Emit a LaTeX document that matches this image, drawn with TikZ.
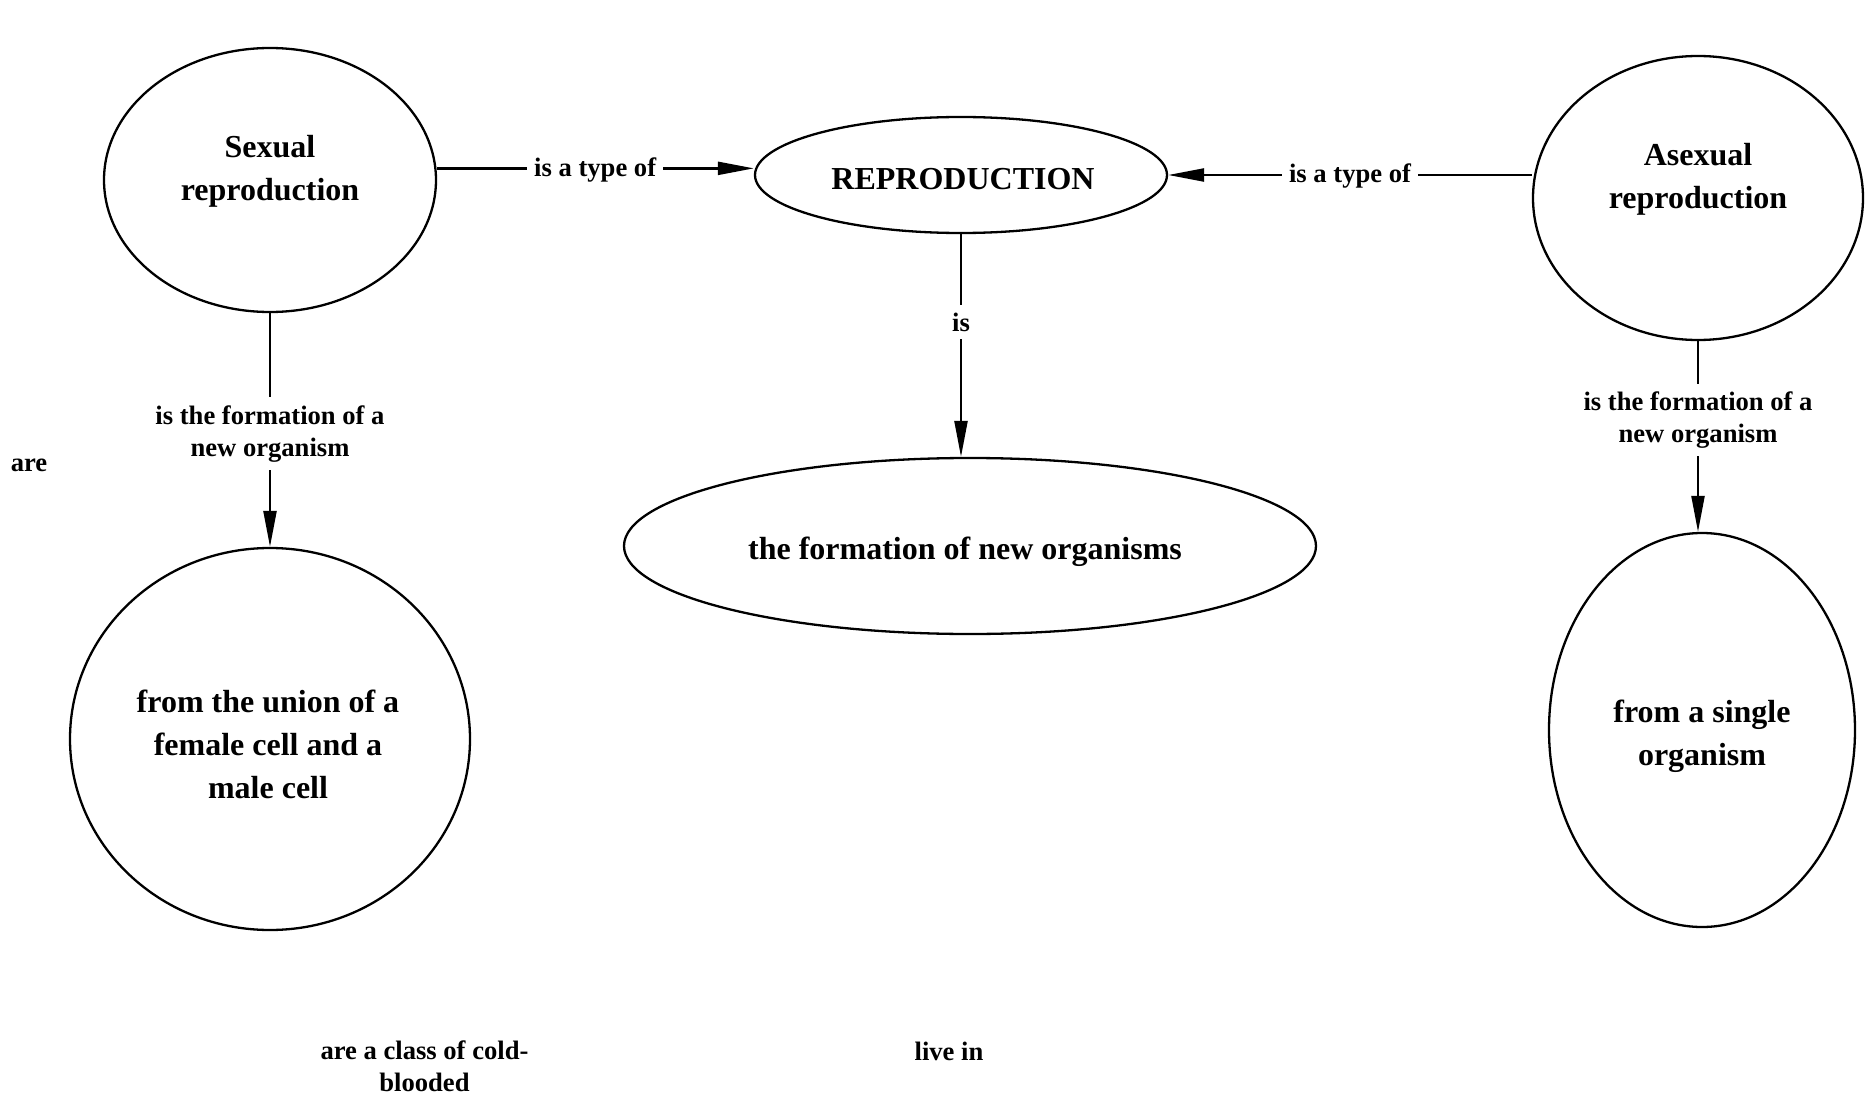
\documentclass[tikz,border=0pt]{standalone}
\usepackage{fontspec}
\setmainfont{Liberation Serif}
\usetikzlibrary{shapes.geometric,arrows.meta}
\begin{document}
\begin{tikzpicture}[x=0.5pt,y=-0.5pt,
  oval/.style={draw, ellipse, line width=1.15pt, inner sep=0pt},
  ctext/.style={align=center, font=\fontsize{16}{21.5}\selectfont\bfseries, inner sep=0pt},
  lbl/.style={align=center, fill=white, font=\fontsize{13.3}{16}\selectfont\bfseries, inner xsep=3.5pt, inner ysep=4pt},
  free/.style={align=center, font=\fontsize{13.3}{16}\selectfont\bfseries, inner sep=0pt},
  arrowlink/.style={line width=1.15pt, -{Triangle[length=18pt,width=6.5pt]}}
]
\useasboundingbox (0,0) rectangle (1870,1097);

% concept ellipses
\node[oval, minimum width=166pt, minimum height=132pt] (sex)    at (270,180)  {};
\node[oval, minimum width=206pt, minimum height=58pt]  (repro)  at (961,175)  {};
\node[oval, minimum width=346pt, minimum height=88pt]  (form)   at (970,546)  {};
\node[oval, minimum width=165pt, minimum height=142pt] (asex)   at (1698,198) {};
\node[oval, minimum width=200pt, minimum height=191pt] (union)  at (270,739)  {};
\node[oval, minimum width=153pt, minimum height=197pt] (single) at (1702,730) {};

% concept texts
\node[ctext] (sexT)    at (270,171)  {Sexual\\reproduction};
\node[ctext] (reproT)  at (963,179)  {REPRODUCTION};
\node[ctext] (formT)   at (965,552)  {the formation of new organisms};
\node[ctext] (asexT)   at (1698,179) {Asexual\\reproduction};
\node[ctext] (unionT)  at (268,744)  {from the union of a\\female cell and a\\male cell};
\node[ctext] (singleT) at (1702,736) {from a single\\organism};

% links
\draw[arrowlink] (sex.4) -- node[lbl, yshift=-0.6pt]{is a type of} (sex.4 -| repro.west);
\draw[arrowlink] (repro.east -| asex.west) -- node[lbl, yshift=-0.6pt]{is a type of} (repro.east);
\draw[arrowlink] (repro.south) -- node[lbl, pos=0.39, yshift=-0.5pt]{is} (repro.south |- form.north);
\draw[arrowlink] (sex.south) -- node[lbl, yshift=-1.8pt]{is the formation of a\\new organism} (sex.south |- union.north);
\draw[arrowlink] (asex.south) -- node[lbl, pos=0.39, yshift=-2.2pt]{is the formation of a\\new organism} (asex.south |- single.north);

% loose link phrases
\node[free] (are)   at (29,465)     {are};
\node[free] (class) at (424.5,1066) {are a class of cold-\\blooded};
\node[free] (live)  at (949,1051)   {live in};
\end{tikzpicture}
\end{document}
